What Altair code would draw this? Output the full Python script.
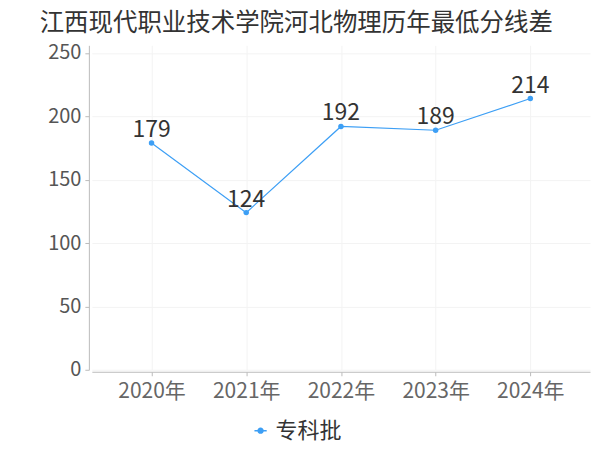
import altair as alt
import pandas as pd

years = ["2020年", "2021年", "2022年", "2023年", "2024年"]
scores = [179, 124, 192, 189, 214]
series = ["专科批"] * 5
title = "江西现代职业技术学院河北物理历年最低分线差"

df = pd.DataFrame({"year": years, "score": scores, "batch": series})

FONT = "Noto Sans CJK SC"
BLUE = "#3d9ff5"

x = alt.X("year:N", sort=years, title=None,
          scale=alt.Scale(type="point", padding=0.63),
          axis=alt.Axis(labelAngle=0, labelFontSize=21, labelColor="#666", labelFont=FONT,
                        domainColor="#bbb", tickColor="#bbb", tickSize=4, offset=2,
                        grid=True, gridColor="#f3f3f3", labelPadding=5))
y = alt.Y("score:Q", title=None,
          scale=alt.Scale(domain=[0, 256], nice=False),
          axis=alt.Axis(values=[0, 50, 100, 150, 200, 250], labelFontSize=20, labelColor="#555",
                        labelFont=FONT, domainColor="#bbb", tickColor="#bbb", tickSize=4,
                        offset=3, gridColor="#f3f3f3", labelPadding=4))
color = alt.Color("batch:N", scale=alt.Scale(domain=["专科批"], range=[BLUE]),
                  legend=alt.Legend(title=None, orient="none", legendX=158, legendY=375,
                                    labelFontSize=22, labelFont=FONT, labelColor="#333",
                                    labelLimit=200,
                                    symbolType="M-1,0L1,0M0.4,0A0.4,0.4 0 1,1 -0.4,0A0.4,0.4 0 1,1 0.4,0Z",
                                    symbolSize=150, symbolStrokeWidth=1.5, symbolFillColor=BLUE,
                                    symbolStrokeColor=BLUE))

base = alt.Chart(df)
line = base.mark_line(strokeWidth=1.2).encode(x=x, y=y, color=color)
pts = base.mark_circle(size=30, opacity=1).encode(x=x, y=y, color=alt.Color("batch:N", scale=alt.Scale(domain=["专科批"], range=[BLUE]), legend=None))
labels = base.mark_text(fontSize=23, font=FONT, color="#333", baseline="alphabetic", dy=-6).encode(
    x=x, y=y, text="score:Q")

chart = (line + pts + labels).properties(
    width=499, height=325,
    autosize=alt.AutoSizeParams(type="none"),
    padding={"left": 84, "top": 37, "right": 2, "bottom": 90},
    title=alt.TitleParams(title, anchor="start", dx=-8, fontSize=24.5, font=FONT,
                          fontWeight="normal", color="#333", offset=6, limit=590),
).configure_view(stroke=None)

chart.save("out.html", embed_options={"renderer": "svg", "actions": False})
